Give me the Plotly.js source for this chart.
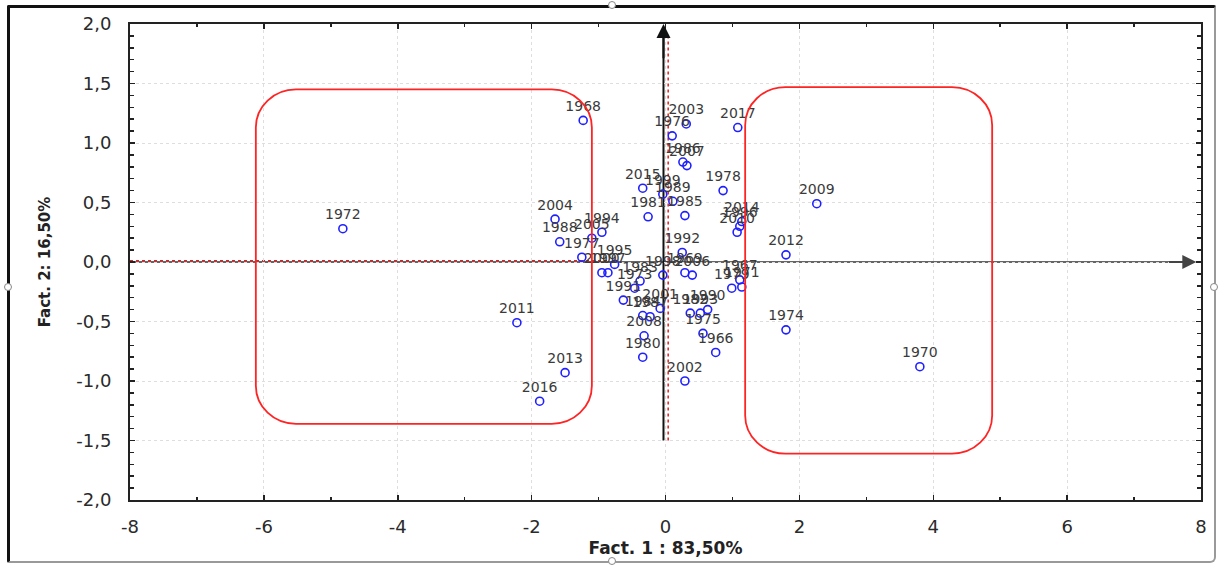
<!DOCTYPE html>
<html>
<head>
<meta charset="utf-8">
<script src="https://cdn.plot.ly/plotly-3.0.1.min.js"></script>
<style>
  html, body { margin: 0; padding: 0; background: #fff; }
  #wrap { position: relative; width: 1219px; height: 565px; }
  #chart { width: 1219px; height: 565px; }
  #frame { position: absolute; left: 7px; top: 5px; width: 1204px; height: 553px;
           border-style: solid; border-width: 3px 2px 2px 3px; border-color: #111 #999 #999 #111;
           border-radius: 2px 2px 6px 2px; pointer-events: none; }
  .handle { position: absolute; width: 6px; height: 6px; border: 1px solid #888; border-radius: 50%;
            background: #fff; pointer-events: none; }
</style>
</head>
<body>
<div id="wrap">
  <div id="chart"></div>
  <div id="frame"></div>
  <div class="handle" style="left:608px;top:1px"></div>
  <div class="handle" style="left:4px;top:283px"></div>
  <div class="handle" style="left:1210px;top:283px"></div>
  <div class="handle" style="left:608px;top:557px"></div>
</div>
<script>
// ---- data ----
const years = ["1966","1967","1968","1969","1970","1971","1972","1973","1974","1975",
               "1976","1977","1978","1979","1980","1981","1982","1983","1984","1985",
               "1986","1987","1988","1989","1990","1991","1992","1993","1994","1995",
               "1996","1997","1998","1999","2000","2001","2002","2003","2004","2005",
               "2006","2007","2008","2009","2010","2011","2012","2013","2014","2015",
               "2016","2017"];
const fact1 = [0.75, 1.11, -1.23, 0.29, 3.80, 1.14, -4.82, -0.46, 1.80, 0.56,
               0.10, -1.25, 0.86, 0.99, -0.34, -0.26, 0.37, -0.38, -0.34, 0.29,
               0.26, -0.23, -1.58, 0.11, 0.63, -0.63, 0.25, 0.52, -0.95, -0.76,
               1.11, -0.86, -0.04, -0.04, -0.95, -0.08, 0.29, 0.31, -1.65, -1.10,
               0.40, 0.32, -0.32, 2.26, 1.07, -2.22, 1.80, -1.50, 1.14, -0.34,
               -1.88, 1.08];
const fact2 = [-0.76, -0.15, 1.19, -0.09, -0.88, -0.21, 0.28, -0.22, -0.57, -0.60,
               1.06, 0.04, 0.60, -0.22, -0.80, 0.38, -0.43, -0.16, -0.45, 0.39,
               0.84, -0.46, 0.17, 0.51, -0.40, -0.32, 0.08, -0.43, 0.25, -0.02,
               0.30, -0.09, -0.11, 0.57, -0.09, -0.39, -1.00, 1.16, 0.36, 0.20,
               -0.11, 0.81, -0.62, 0.49, 0.25, -0.51, 0.06, -0.93, 0.34, 0.62,
               -1.17, 1.13];
const xTickVals = [-8, -6, -4, -2, 0, 2, 4, 6, 8];
const xTickText = ["-8", "-6", "-4", "-2", "0", "2", "4", "6", "8"];
const yTickVals = [-2, -1.5, -1, -0.5, 0, 0.5, 1, 1.5, 2];
const yTickText = ["-2,0", "-1,5", "-1,0", "-0,5", "0,0", "0,5", "1,0", "1,5", "2,0"];
const xTitle = "Fact. 1 : 83,50%";
const yTitle = "Fact. 2: 16,50%";

// ---- decorations ----
const leftBox  = {x0: -6.12, x1: -1.10, y0: -1.36, y1: 1.45};
const rightBox = {x0: 1.19,  x1: 4.88,  y0: -1.61, y1: 1.47};
const cornerRx = 0.6, cornerRy = 0.32;

function roundedRect(b, rx, ry) {
  const k = 0.5523;
  const {x0, x1, y0, y1} = b;
  return [
    `M${x0 + rx},${y1}`,
    `L${x1 - rx},${y1}`,
    `C${x1 - rx + k * rx},${y1} ${x1},${y1 - ry + k * ry} ${x1},${y1 - ry}`,
    `L${x1},${y0 + ry}`,
    `C${x1},${y0 + ry - k * ry} ${x1 - rx + k * rx},${y0} ${x1 - rx},${y0}`,
    `L${x0 + rx},${y0}`,
    `C${x0 + rx - k * rx},${y0} ${x0},${y0 + ry - k * ry} ${x0},${y0 + ry}`,
    `L${x0},${y1 - ry}`,
    `C${x0},${y1 - ry + k * ry} ${x0 + rx - k * rx},${y1} ${x0 + rx},${y1}`,
    'Z'
  ].join(' ');
}

const trace = {
  type: 'scatter',
  mode: 'markers+text',
  x: fact1,
  y: fact2,
  text: years,
  textposition: 'top center',
  textfont: {family: 'DejaVu Sans, Arial, sans-serif', size: 14, color: '#3a3a3a'},
  marker: {symbol: 'circle-open', size: 8, color: '#2020ff', line: {width: 1.6, color: '#2020ff'}},
  cliponaxis: false,
  hoverinfo: 'x+y+text',
  showlegend: false
};

const axisFont = {family: 'DejaVu Sans, Arial, sans-serif', size: 18, color: '#2a2a2a'};

const layout = {
  width: 1219,
  height: 565,
  margin: {l: 130, r: 18, t: 24, b: 65},
  paper_bgcolor: '#fff',
  plot_bgcolor: '#fff',
  showlegend: false,
  xaxis: {
    range: [-8, 8],
    tickmode: 'array',
    tickvals: xTickVals,
    ticktext: xTickText,
    ticks: 'inside',
    ticklen: 5,
    tickwidth: 1.5,
    tickcolor: '#222',
    minor: {dtick: 1, tick0: 0, ticks: 'inside', ticklen: 3, tickcolor: '#222', showgrid: false},
    showline: true,
    linecolor: '#222',
    linewidth: 2,
    mirror: 'allticks',
    showgrid: true,
    gridcolor: '#dedede',
    griddash: 'dot',
    zeroline: false,
    tickfont: axisFont,
    ticklabelstandoff: 9,
    title: {text: xTitle, font: {family: 'DejaVu Sans, Arial, sans-serif', size: 17, color: '#222', weight: 'bold'}, standoff: 7}
  },
  yaxis: {
    range: [-2, 2],
    tickmode: 'array',
    tickvals: yTickVals,
    ticktext: yTickText,
    ticks: 'inside',
    ticklen: 5,
    tickwidth: 1.5,
    tickcolor: '#222',
    minor: {dtick: 0.1, tick0: 0, ticks: 'inside', ticklen: 4, tickcolor: '#222', showgrid: false},
    showline: true,
    linecolor: '#222',
    linewidth: 2,
    mirror: 'allticks',
    showgrid: true,
    gridcolor: '#dedede',
    griddash: 'dot',
    zeroline: false,
    tickfont: axisFont,
    ticklabelstandoff: 13,
    title: {text: yTitle, font: {family: 'DejaVu Sans, Arial, sans-serif', size: 15, color: '#222', weight: 'bold'}, standoff: 22}
  },
  shapes: [
    // horizontal factor axis
    {type: 'line', xref: 'x', yref: 'y', x0: -8, x1: 7.75, y0: 0, y1: 0,
     line: {color: '#666', width: 2}, layer: 'below'},
    {type: 'line', xref: 'x', yref: 'y', x0: -8, x1: -0.85, y0: 0.01, y1: 0.01,
     line: {color: '#e02020', width: 1.5, dash: 'dot'}, layer: 'below'},
    // vertical factor axis
    {type: 'line', xref: 'x', yref: 'y', x0: -0.03, x1: -0.03, y0: -1.5, y1: 1.9,
     line: {color: '#111', width: 2}, layer: 'below'},
    {type: 'line', xref: 'x', yref: 'y', x0: 0.04, x1: 0.04, y0: -1.5, y1: 1.9,
     line: {color: '#e02020', width: 1.5, dash: 'dot'}, layer: 'below'},
    // red rounded boxes
    {type: 'path', xref: 'x', yref: 'y', path: roundedRect(leftBox, cornerRx, cornerRy),
     line: {color: '#ff2424', width: 1.8}, fillcolor: 'rgba(0,0,0,0)', layer: 'above'},
    {type: 'path', xref: 'x', yref: 'y', path: roundedRect(rightBox, cornerRx, cornerRy),
     line: {color: '#ff2424', width: 1.8}, fillcolor: 'rgba(0,0,0,0)', layer: 'above'}
  ],
  annotations: [
    {x: 7.93, y: 0, ax: 7.5, ay: 0, xref: 'x', yref: 'y', axref: 'x', ayref: 'y',
     text: '', showarrow: true, arrowhead: 2, arrowsize: 1.4, arrowwidth: 2, arrowcolor: '#444'},
    {x: -0.03, y: 2.0, ax: -0.03, ay: 1.7, xref: 'x', yref: 'y', axref: 'x', ayref: 'y',
     text: '', showarrow: true, arrowhead: 2, arrowsize: 1.4, arrowwidth: 2, arrowcolor: '#111'}
  ]
};

Plotly.newPlot('chart', [trace], layout, {displayModeBar: false, staticPlot: true});
</script>
</body>
</html>
